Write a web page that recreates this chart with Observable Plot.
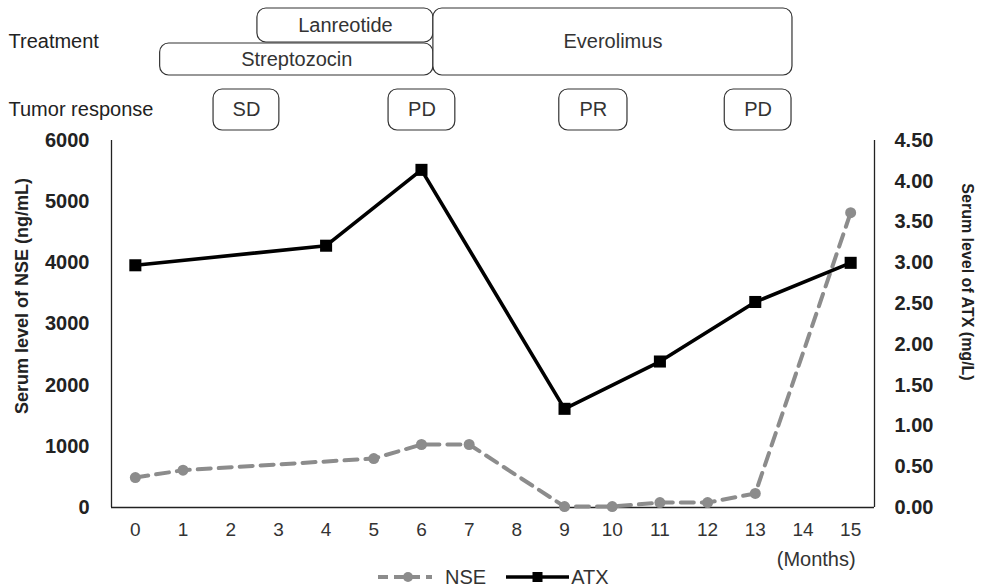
<!DOCTYPE html>
<html>
<head>
<meta charset="utf-8">
<script src="https://cdn.jsdelivr.net/npm/d3@7"></script>
<script src="https://cdn.jsdelivr.net/npm/@observablehq/plot@0.6"></script>
<style>
  html, body { margin: 0; padding: 0; background: #fff; }
  body { width: 981px; height: 587px; overflow: hidden; font-family: "Liberation Sans", Arial, sans-serif; }
  #legend { display: flex; justify-content: flex-start; align-items: center; height: 20px; margin-top: -6px; padding-left: 378px; font-size: 20px; color: #333; }
  #legend .item { display: flex; align-items: center; }
  #legend svg { display: block; }
</style>
</head>
<body>
<div id="chart"></div>
<div id="legend"></div>
<script>
// ---- data ----
const nseMonths = [0, 1, 5, 6, 7, 9, 10, 11, 12, 13, 15];
const nseValues = [490, 610, 800, 1030, 1030, 15, 15, 80, 80, 230, 4820];
const atxMonths = [0, 4, 6, 9, 11, 13, 15];
const atxValues = [2.97, 3.21, 4.14, 1.21, 1.79, 2.52, 3.00];
const xTickLabels = [0, 1, 2, 3, 4, 5, 6, 7, 8, 9, 10, 11, 12, 13, 14, 15];
const leftTicks = [0, 1000, 2000, 3000, 4000, 5000, 6000];
const rightTicks = [0, 0.5, 1, 1.5, 2, 2.5, 3, 3.5, 4, 4.5];
const treatmentNames = ["Streptozocin", "Lanreotide", "Everolimus"];
const treatmentStart = [0.52, 2.56, 6.25];
const treatmentEnd = [6.25, 6.25, 13.78];
const treatmentRow = ["lower", "upper", "both"];
const responseNames = ["SD", "PD", "PR", "PD"];
const responseStart = [1.64, 5.31, 8.89, 12.36];
const responseEnd = [3.02, 6.71, 10.32, 13.76];

// ---- layout ----
const W = 981, H = 573;
const mTop = 140, mBottom = 66, mLeft = 111, mRight = 107;
const yMax = 6000, rMax = 4.5, k = yMax / rMax;
const plotH = H - mTop - mBottom;
// convert pixels above the frame top into y-data units (for annotation rows)
const above = px => yMax + px * yMax / plotH;
const rows = {
  upper: [above(98), above(132)],
  lower: [above(65), above(97)],
  both: [above(65), above(132)],
  response: [above(10), above(51)]
};

const nse = nseMonths.map((m, i) => ({month: m, value: nseValues[i]}));
const atx = atxMonths.map((m, i) => ({month: m, value: atxValues[i] * k}));
const treatments = treatmentNames.map((n, i) => ({
  name: n, x1: treatmentStart[i], x2: treatmentEnd[i],
  y1: rows[treatmentRow[i]][0], y2: rows[treatmentRow[i]][1]
}));
const responses = responseNames.map((n, i) => ({
  name: n, x1: responseStart[i], x2: responseEnd[i],
  y1: rows.response[0], y2: rows.response[1]
}));

const font = '"Liberation Sans", Arial, sans-serif';
const gray = "#8c8c8c";
const boxStroke = "#333";

const plot = Plot.plot({
  width: W, height: H,
  marginTop: mTop, marginBottom: mBottom, marginLeft: mLeft, marginRight: mRight,
  style: {fontFamily: font, background: "#fff", overflow: "visible"},
  x: {domain: [-0.5, 15.5]},
  y: {domain: [0, yMax]},
  marks: [
    // frame lines (left, right, bottom)
    Plot.ruleX([-0.5, 15.5], {y1: 0, y2: yMax, stroke: "#222", strokeWidth: 1.3}),
    Plot.ruleY([0], {stroke: "#222", strokeWidth: 1.3}),
    // axes
    Plot.axisX(xTickLabels, {anchor: "bottom", tickSize: 0, tickPadding: 15, fontSize: 19, fill: "#333", label: null}),
    Plot.axisY(leftTicks, {anchor: "left", tickSize: 0, tickPadding: 22, fontSize: 20, fontWeight: "bold", fill: "#222", label: null, tickFormat: d => String(d)}),
    Plot.axisY(rightTicks.map(v => v * k), {anchor: "right", tickSize: 0, tickPadding: 20, fontSize: 20, fontWeight: "bold", fill: "#222", label: null, tickFormat: d => (d / k).toFixed(2)}),
    // axis titles
    Plot.text(["Serum level of NSE (ng/mL)"], {frameAnchor: "left", dx: -89, dy: -28, rotate: -90, textAnchor: "middle", fontSize: 18, fontWeight: "bold", fill: "#222", text: d => d}),
    Plot.text(["Serum level of ATX (mg/L)"], {frameAnchor: "right", dx: 93, dy: -42, rotate: 90, textAnchor: "middle", fontSize: 16, fontWeight: "bold", fill: "#222", text: d => d}),
    Plot.text(["(Months)"], {x: 15, frameAnchor: "bottom", dy: 58, dx: 5, textAnchor: "end", fontSize: 20, fill: "#333", text: d => d}),
    // annotation row labels
    Plot.text(["Treatment"], {y: (rows.both[0] + rows.both[1]) / 2, frameAnchor: "left", dx: -103, textAnchor: "start", fontSize: 20, fill: "#222", text: d => d}),
    Plot.text(["Tumor response"], {y: (rows.response[0] + rows.response[1]) / 2, frameAnchor: "left", dx: -103, textAnchor: "start", fontSize: 20, fill: "#222", text: d => d}),
    // treatment boxes
    Plot.rect(treatments, {x1: "x1", x2: "x2", y1: "y1", y2: "y2", fill: "#fff", stroke: boxStroke, strokeWidth: 1.2, rx: 9}),
    Plot.text(treatments, {x: d => (d.x1 + d.x2) / 2, y: d => (d.y1 + d.y2) / 2, text: "name", fontSize: 20, fill: "#333"}),
    // response boxes
    Plot.rect(responses, {x1: "x1", x2: "x2", y1: "y1", y2: "y2", fill: "#fff", stroke: boxStroke, strokeWidth: 1.2, rx: 9}),
    Plot.text(responses, {x: d => (d.x1 + d.x2) / 2, y: d => (d.y1 + d.y2) / 2, text: "name", fontSize: 20, fill: "#333"}),
    // NSE series
    Plot.line(nse, {x: "month", y: "value", stroke: gray, strokeWidth: 4, strokeDasharray: "13,8"}),
    Plot.dot(nse, {x: "month", y: "value", r: 5.5, fill: gray, stroke: "none"}),
    // ATX series
    Plot.line(atx, {x: "month", y: "value", stroke: "#000", strokeWidth: 3.6}),
    Plot.dot(atx, {x: "month", y: "value", symbol: "square", r: 6.8, fill: "#000", stroke: "none"})
  ]
});
document.getElementById("chart").appendChild(plot);

// legend
const legend = d3.select("#legend");
function item(label, color, dash, sym, width, lineW, gapText) {
  const it = legend.append("div").attr("class", "item");
  const svg = it.append("svg").attr("width", lineW).attr("height", 16);
  svg.append("line").attr("x1", 0).attr("x2", lineW).attr("y1", 8).attr("y2", 8)
    .attr("stroke", color).attr("stroke-width", width).attr("stroke-dasharray", dash);
  if (sym === "circle") svg.append("circle").attr("cx", lineW / 2 + 3).attr("cy", 8).attr("r", 5).attr("fill", color);
  else svg.append("rect").attr("x", lineW / 2 - 5).attr("y", 3).attr("width", 10).attr("height", 10).attr("fill", color);
  it.append("span").text(label).style("margin-left", gapText + "px");
}
item("NSE", gray, "10,6", "circle", 4, 54, 13);
legend.append("div").style("width", "20px");
item("ATX", "#000", null, "square", 3.5, 63, 2);
</script>
</body>
</html>
